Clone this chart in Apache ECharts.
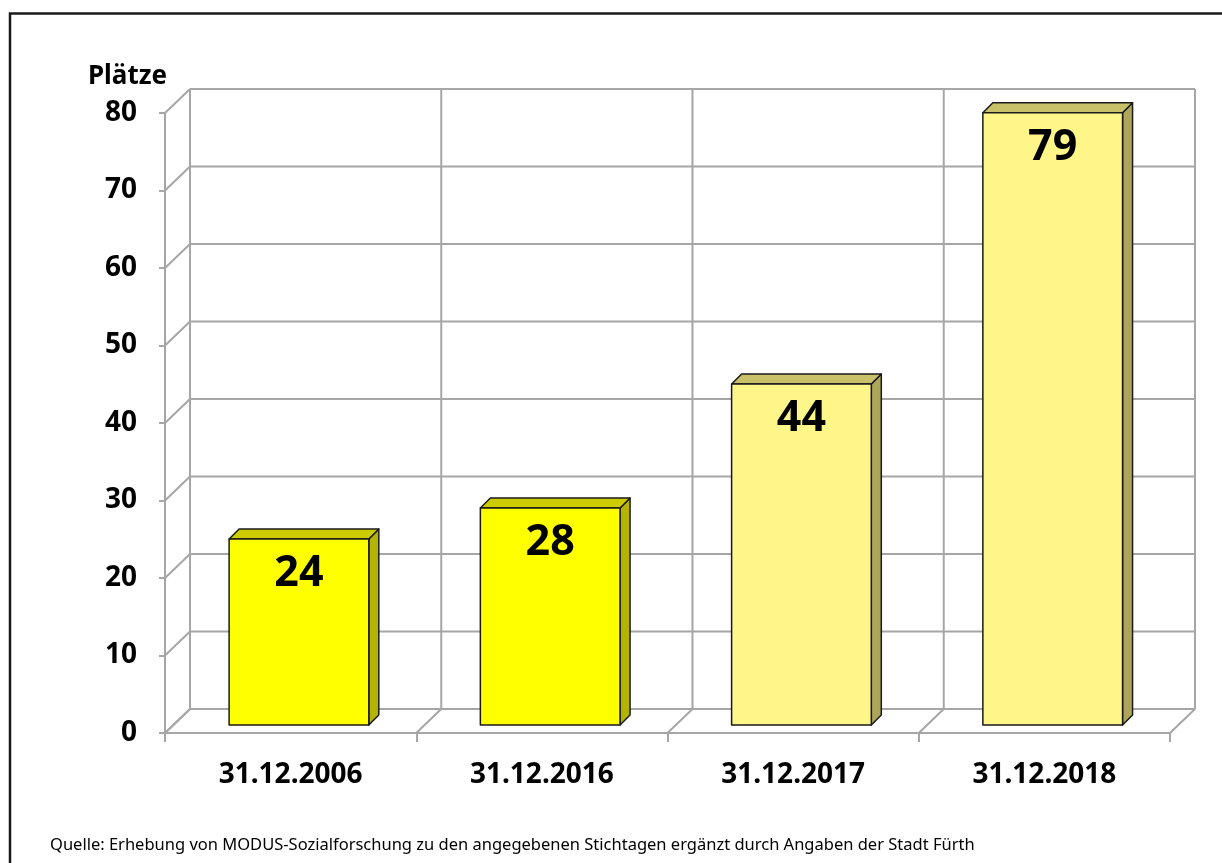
<!DOCTYPE html>
<html>
<head>
<meta charset="utf-8">
<script src="https://cdn.jsdelivr.net/npm/echarts@6/dist/echarts.min.js"></script>
<style>
  html, body { margin: 0; padding: 0; background: #fff; }
  #chart-view { width: 1222px; height: 863px; }
</style>
</head>
<body>
<div id="chart-view"></div>
<script>
  // Daten
  const categories = ['31.12.2006', '31.12.2016', '31.12.2017', '31.12.2018']
  const places = [24, 28, 44, 79]
  const yTicks = [0, 10, 20, 30, 40, 50, 60, 70, 80]

  // Farben je Balken (Vorderseite, Seite, Deckel)
  const barColors = [
    ['#FFFF00', '#B3B300', '#CCCC00'],
    ['#FFFF00', '#B3B300', '#CCCC00'],
    ['#FFF68A', '#ADA55A', '#C9C06A'],
    ['#FFF68A', '#ADA55A', '#C9C06A']
  ]

  const DX = 25, DY = -24        // Tiefe der Rueckwand
  const BAR_F = 1 / 3            // Position der Balkenfront in der Tiefe
  const BAR_D = 10               // Tiefe der Balken
  const GRID_COLOR = '#A6A6A6'
  const FONT = '"Noto Sans", sans-serif'

  let chart = echarts.init(document.getElementById('chart-view'))

  // Rueckwand, Seitenwand-Diagonalen und Boden
  function renderWall(params, api) {
    const v = api.value(0)
    const bw = api.size([1, 0])[0]
    const p0 = api.coord([0, v])
    const pN = api.coord([categories.length - 1, v])
    const x0 = p0[0] - bw / 2
    const xN = pN[0] + bw / 2
    const y = p0[1]
    const style = { stroke: GRID_COLOR, lineWidth: 2 }
    const children = [
      { type: 'line', shape: { x1: x0, y1: y, x2: x0 + DX, y2: y + DY }, style },
      { type: 'line', shape: { x1: x0 + DX, y1: y + DY, x2: xN + DX, y2: y + DY }, style }
    ]
    if (params.dataIndex === 0) {
      const yTop = api.coord([0, yTicks[yTicks.length - 1]])[1]
      for (let k = 0; k <= categories.length; k++) {
        const x = x0 + k * bw
        children.push({ type: 'line', shape: { x1: x, y1: y, x2: x + DX, y2: y + DY }, style })
        children.push({ type: 'line', shape: { x1: x + DX, y1: y + DY, x2: x + DX, y2: yTop + DY }, style })
      }
    }
    return { type: 'group', children }
  }

  // 3D-Balken
  function renderBar(params, api) {
    const i = api.value(0)
    const v = api.value(1)
    const bw = api.size([1, 0])[0]
    const base = api.coord([i, 0])
    const top = api.coord([i, v])
    const w = bw * 0.556
    const cx = base[0] + BAR_F * DX
    const xl = cx - w / 2, xr = cx + w / 2
    const yb = base[1] + BAR_F * DY
    const yt = top[1] + BAR_F * DY
    const c = barColors[i]
    const stroke = { stroke: '#1a1a1a', lineWidth: 1.5, lineJoin: 'round' }
    return {
      type: 'group',
      children: [
        { type: 'polygon', shape: { points: [[xr, yt], [xr + BAR_D, yt - BAR_D], [xr + BAR_D, yb - BAR_D], [xr, yb]] },
          style: Object.assign({ fill: c[1] }, stroke) },
        { type: 'polygon', shape: { points: [[xl, yt], [xl + BAR_D, yt - BAR_D], [xr + BAR_D, yt - BAR_D], [xr, yt]] },
          style: Object.assign({ fill: c[2] }, stroke) },
        { type: 'rect', shape: { x: xl, y: yt, width: w, height: yb - yt },
          style: Object.assign({ fill: c[0] }, stroke) },
        { type: 'text', x: cx, y: yt + 35,
          style: { text: String(v), fill: '#000', font: 'bold 43px ' + FONT, align: 'center', verticalAlign: 'middle' } }
      ]
    }
  }

  let option = {
    animation: false,
    backgroundColor: '#fff',
    grid: {
      left: 165,
      right: 52,
      top: 113,
      bottom: 130
    },
    xAxis: {
      type: 'category',
      data: categories,
      axisLine: { lineStyle: { color: GRID_COLOR, width: 2 } },
      axisTick: { show: true, length: 9, lineStyle: { color: GRID_COLOR, width: 2 } },
      axisLabel: { color: '#000', fontFamily: FONT, fontWeight: 'bold', fontSize: 28, margin: 28 },
      splitLine: { show: false }
    },
    yAxis: {
      type: 'value',
      min: 0,
      max: 80,
      interval: 10,
      name: 'Plätze',
      nameLocation: 'end',
      nameGap: 36,
      nameTextStyle: { color: '#000', fontFamily: FONT, fontWeight: 'bold', fontSize: 26, align: 'right', verticalAlign: 'middle', padding: [0, -2, 0, 0] },
      axisLine: { show: true, lineStyle: { color: GRID_COLOR, width: 2 } },
      axisTick: { show: true, length: 6, lineStyle: { color: GRID_COLOR, width: 2 } },
      axisLabel: { color: '#000', fontFamily: FONT, fontWeight: 'bold', fontSize: 28, margin: 28, padding: [4, 0, 0, 0] },
      splitLine: { show: false }
    },
    graphic: [
      { type: 'rect', shape: { x: 10, y: 13.5, width: 1300, height: 1000 },
        style: { fill: 'none', stroke: '#1a1a1a', lineWidth: 2.5 }, silent: true },
      { type: 'text', left: 50, top: 837,
        style: { text: 'Quelle: Erhebung von MODUS-Sozialforschung zu den angegebenen Stichtagen ergänzt durch Angaben der Stadt Fürth',
          fill: '#000', font: '16.5px ' + FONT } }
    ],
    series: [
      {
        type: 'custom',
        name: 'Wand',
        renderItem: renderWall,
        data: yTicks.map(v => [v]),
        encode: { y: 0 },
        silent: true,
        z: 1
      },
      {
        type: 'custom',
        name: 'Plätze',
        renderItem: renderBar,
        data: places.map((v, i) => [i, v]),
        encode: { x: 0, y: 1 },
        z: 2
      }
    ]
  }

  chart.setOption(option)
</script>
</body>
</html>
